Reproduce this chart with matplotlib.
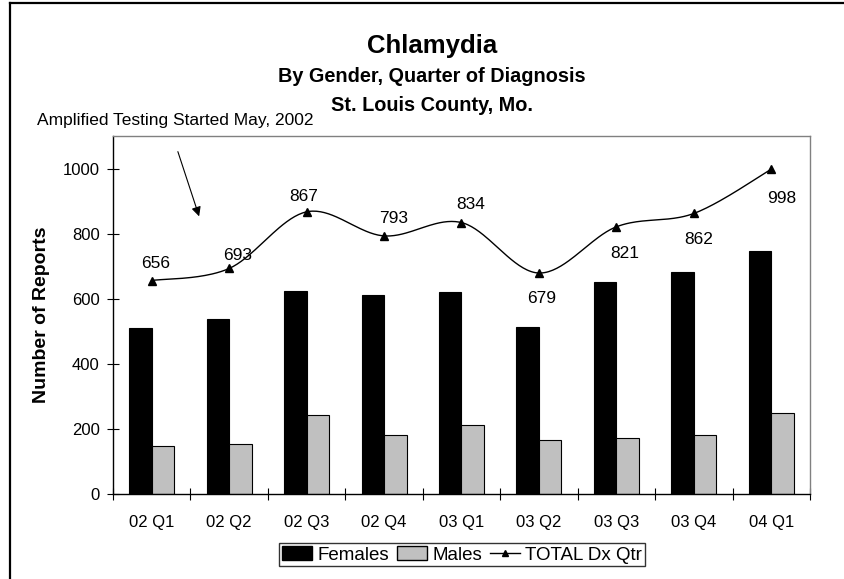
import numpy as np
import matplotlib
matplotlib.use("Agg")
import matplotlib.pyplot as plt
from matplotlib.lines import Line2D
from matplotlib.patches import Patch

categories = ["02 Q1", "02 Q2", "02 Q3", "02 Q4", "03 Q1", "03 Q2", "03 Q3", "03 Q4", "04 Q1"]
females = [510, 538, 623, 612, 621, 513, 650, 682, 748]
males = [146, 155, 244, 181, 213, 166, 171, 180, 250]
totals = [656, 693, 867, 793, 834, 679, 821, 862, 998]

title_lines = ["Chlamydia", "By Gender, Quarter of Diagnosis", "St. Louis County, Mo."]
note_text = "Amplified Testing Started May, 2002"

# label offsets in pixels (style)
label_offsets = [(4, 17), (8, 13), (-3, 15), (10, 17), (9, 18), (3, -25), (8, -27), (5, -26), (10, -29)]

plt.rcParams['font.family'] = ['Liberation Sans', 'DejaVu Sans']

W, H = 845, 579
fig = plt.figure(figsize=(W / 100, H / 100), dpi=100)
fig.patch.set_facecolor('white')

def fx(px):
    return px / W

def fy(py):
    return 1 - py / H

ax = fig.add_axes([fx(113), fy(494), fx(810) - fx(113), (494 - 136) / H])

x = np.arange(len(categories))
bw = 0.29
ax.bar(x - bw / 2, females, width=bw, color='black', edgecolor='black', linewidth=0.8, zorder=2)
ax.bar(x + bw / 2, males, width=bw, color='#c0c0c0', edgecolor='black', linewidth=0.8, zorder=2)

# Excel-style smoothed line (Bezier through the points)
def smooth(xs, ys, n=40):
    P = np.column_stack([xs, ys]).astype(float)
    pts = []
    m = len(P)
    for i in range(m - 1):
        p0 = P[i - 1] if i > 0 else P[i]
        p1 = P[i]
        p2 = P[i + 1]
        p3 = P[i + 2] if i + 2 < m else P[i + 1]
        c1 = p1 + (p2 - p0) / 6.0
        c2 = p2 - (p3 - p1) / 6.0
        t = np.linspace(0, 1, n)[:, None]
        seg = ((1 - t) ** 3) * p1 + 3 * ((1 - t) ** 2) * t * c1 + 3 * (1 - t) * t ** 2 * c2 + t ** 3 * p2
        pts.append(seg if i == 0 else seg[1:])
    pts = np.vstack(pts)
    return pts[:, 0], pts[:, 1]

sx, sy = smooth(x, totals)
ax.plot(sx, sy, color='black', linewidth=1.0, zorder=3)
ax.plot(x, totals, linestyle='none', marker='^', color='black', markersize=6, zorder=4)

for xi, v, (dx, dy) in zip(x, totals, label_offsets):
    ax.annotate(str(v), (xi, v), xytext=(dx, dy), textcoords='offset pixels',
                ha='center', va='center', fontsize=12.5, zorder=5)

ax.set_xlim(-0.5, len(categories) - 0.5)
ax.set_ylim(0, 1100)
ax.set_yticks([0, 200, 400, 600, 800, 1000])
ax.set_xticks(np.arange(len(categories) + 1) - 0.5, minor=False)
ax.set_xticklabels([])
ax.set_xticks(x, minor=True)
ax.set_xticklabels(categories, minor=True, fontsize=12)
ax.tick_params(axis='x', which='minor', length=0, pad=15)
ax.tick_params(axis='x', which='major', direction='inout', length=9, width=0.8)
ax.tick_params(axis='y', direction='inout', length=9, width=0.8, labelsize=12, pad=5)

for s in ['top', 'right']:
    ax.spines[s].set_color('#808080')
    ax.spines[s].set_linewidth(1.0)
for s in ['left', 'bottom']:
    ax.spines[s].set_color('black')
    ax.spines[s].set_linewidth(1.0)

fig.text(fx(42), fy(315), "Number of Reports", rotation=90, ha='center', va='center',
         fontsize=14, fontweight='bold')

# titles
fig.text(fx(432), fy(53.3), title_lines[0], ha='center', va='baseline', fontsize=18.5, fontweight='bold')
fig.text(fx(432), fy(81.7), title_lines[1], ha='center', va='baseline', fontsize=14.3, fontweight='bold')
fig.text(fx(432), fy(110.7), title_lines[2], ha='center', va='baseline', fontsize=14.3, fontweight='bold')

# note + arrow
fig.text(fx(37), fy(125), note_text, ha='left', va='baseline', fontsize=12.5)
fig.add_artist(matplotlib.patches.FancyArrowPatch(
    (fx(177), fy(149)), (fx(200), fy(219)), transform=fig.transFigure,
    arrowstyle='-|>', mutation_scale=14, color='black', linewidth=0.8))

# outer frame
fig.add_artist(Line2D([fx(10), fx(10)], [0, fy(3)], transform=fig.transFigure, color='black', linewidth=1.6))
fig.add_artist(Line2D([fx(10), 1], [fy(3), fy(3)], transform=fig.transFigure, color='black', linewidth=1.6))

handles = [Patch(facecolor='black', edgecolor='black'),
           Patch(facecolor='#c0c0c0', edgecolor='black'),
           Line2D([], [], color='black', marker='^', markersize=5, linewidth=1)]
leg = fig.legend(handles, ["Females", "Males", "TOTAL Dx Qtr"], loc='center',
                 bbox_to_anchor=(fx(462), fy(554.7)), ncol=3, fontsize=13.5,
                 frameon=True, fancybox=False, edgecolor='black', borderpad=0.15,
                 handlelength=1.6, handleheight=0.8, handletextpad=0.3, columnspacing=0.4,
                 borderaxespad=0)
leg.get_frame().set_linewidth(1.0)

fig.savefig("out.png", dpi=100, facecolor='white')
